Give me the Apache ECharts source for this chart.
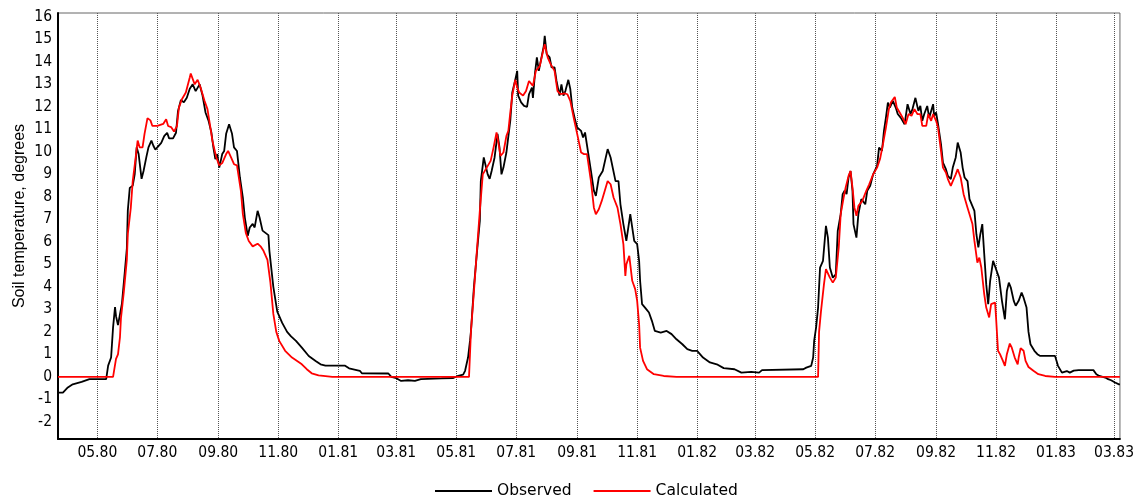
<!DOCTYPE html>
<html><head><meta charset="utf-8">
<script src="https://cdn.jsdelivr.net/npm/echarts@6/dist/echarts.min.js"></script>
<style>html,body{margin:0;padding:0;background:#fff}#c{width:1137px;height:500px}</style>
</head><body><div id="c"></div>
<script>
// Day 0 of the record and its length in days
const startDate = '1980-03-22';
const endDay = 1080;
// x tick positions (first day of every second month), labelled MM.YY
const tickDates = ['1980-05-01','1980-07-01','1980-09-01','1980-11-01','1981-01-01','1981-03-01',
  '1981-05-01','1981-07-01','1981-09-01','1981-11-01','1982-01-01','1982-03-01',
  '1982-05-01','1982-07-01','1982-09-01','1982-11-01','1983-01-01','1983-03-01'];
const yTicks = [-2,-1,0,1,2,3,4,5,6,7,8,9,10,11,12,13,14,15,16];
// [day since start, soil temperature]
const observed = [[0,-0.7],[5,-0.7],[10,-0.47],[15,-0.33],[24,-0.22],[32,-0.1],[49,-0.1],[51,0.5],[54,0.86],[56,2.2],[58,3.1],[59,2.7],[61,2.3],[63,2.35],[65,3.25],[68,4.7],[70,5.7],[71,7.4],[73,8.4],[76,8.5],[78,9.0],[80,10.2],[82,9.9],[85,8.8],[87,9.15],[90,9.8],[92,10.2],[95,10.5],[97,10.27],[99,10.1],[101,10.2],[105,10.4],[108,10.7],[111,10.85],[113,10.6],[117,10.6],[120,10.85],[122,11.8],[125,12.3],[128,12.2],[131,12.4],[134,12.8],[137,13.0],[139,13.08],[140,12.7],[144,13.0],[147,12.5],[150,11.75],[153,11.4],[156,10.86],[158,10.2],[160,9.68],[162,9.9],[164,9.3],[167,9.9],[169,10.04],[171,10.8],[174,11.23],[177,10.8],[179,10.2],[182,10.04],[185,8.86],[188,7.97],[190,7.08],[193,6.27],[195,6.64],[198,6.8],[200,6.64],[203,7.38],[205,7.08],[208,6.5],[211,6.4],[214,6.3],[215,5.6],[219,4.0],[223,2.9],[228,2.4],[233,2.0],[237,1.8],[242,1.6],[248,1.3],[255,0.93],[262,0.71],[267,0.56],[272,0.5],[292,0.5],[296,0.38],[307,0.27],[309,0.16],[336,0.15],[339,0.0],[344,-0.06],[349,-0.18],[356,-0.15],[363,-0.18],[369,-0.1],[390,-0.07],[402,-0.05],[407,0.05],[412,0.1],[414,0.27],[417,0.86],[419,1.6],[420,2.04],[423,4.0],[426,5.5],[429,6.93],[430,8.7],[433,9.75],[435,9.8],[437,9.0],[439,8.8],[441,9.15],[444,9.75],[447,10.8],[449,10.2],[451,9.0],[453,9.3],[456,9.97],[458,9.9],[460,11.4],[462,12.64],[465,13.2],[467,13.6],[468,12.5],[471,12.2],[474,12.04],[477,12.0],[479,12.56],[482,12.86],[483,12.4],[485,13.45],[487,14.2],[489,13.6],[491,14.04],[494,14.7],[495,15.16],[497,14.34],[500,14.2],[502,13.75],[505,13.75],[507,13.15],[510,12.5],[512,13.0],[514,12.5],[516,12.7],[519,13.2],[521,12.8],[523,11.97],[526,11.4],[528,11.08],[532,10.93],[534,10.64],[536,10.86],[538,10.93],[542,9.15],[545,8.27],[547,8.04],[550,8.86],[554,9.15],[559,10.12],[562,9.75],[567,8.7],[570,8.7],[572,7.67],[575,6.79],[578,6.04],[581,6.93],[582,7.23],[585,6.34],[586,6.04],[589,5.9],[591,5.16],[592,4.27],[594,3.23],[597,3.08],[601,2.86],[604,2.49],[607,2.04],[613,1.97],[619,2.04],[624,1.9],[629,1.67],[635,1.45],[640,1.23],[645,1.16],[650,1.16],[656,0.86],[663,0.64],[670,0.56],[677,0.39],[688,0.34],[695,0.19],[705,0.22],[713,0.19],[716,0.3],[758,0.34],[761,0.41],[766,0.49],[768,0.86],[769,1.6],[771,2.2],[773,3.08],[775,4.86],[778,5.16],[781,6.71],[783,6.19],[785,4.86],[788,4.41],[791,4.56],[793,6.49],[796,7.23],[798,8.12],[800,8.27],[802,8.12],[804,8.86],[806,9.15],[808,8.27],[809,6.79],[812,6.19],[814,7.23],[817,7.9],[821,7.67],[823,8.27],[826,8.49],[829,9.0],[833,9.38],[835,10.19],[838,10.04],[840,10.93],[842,11.52],[844,12.19],[846,11.97],[849,12.27],[852,11.97],[854,11.68],[857,11.52],[861,11.23],[864,12.12],[867,11.68],[869,11.9],[872,12.4],[875,11.82],[877,12.04],[879,11.38],[881,11.68],[884,12.04],[886,11.52],[890,12.12],[891,11.6],[893,11.75],[895,11.23],[898,10.34],[900,9.52],[903,9.23],[905,8.93],[908,8.79],[910,9.3],[913,9.75],[915,10.41],[918,9.97],[920,9.3],[922,8.86],[925,8.7],[927,7.9],[929,7.97],[932,7.38],[934,6.34],[936,5.75],[938,6.34],[940,6.79],[942,5.45],[944,4.12],[946,3.23],[948,4.27],[951,5.16],[953,5.08],[957,4.41],[960,3.38],[963,2.56],[965,3.82],[967,4.19],[969,3.97],[972,3.38],[974,3.16],[977,3.38],[980,3.75],[982,3.52],[985,3.08],[987,2.0],[989,1.45],[993,1.16],[996,1.01],[999,0.93],[1014,0.93],[1017,0.49],[1021,0.19],[1026,0.26],[1029,0.19],[1033,0.28],[1038,0.3],[1053,0.3],[1056,0.12],[1059,0.04],[1065,-0.03],[1068,-0.1],[1071,-0.15],[1075,-0.25],[1079,-0.33],[1080,-0.33]];
const calculated = [[0,0],[56,0],[59,0.8],[61,1.0],[63,1.75],[64,2.6],[67,3.8],[70,5.2],[71,6.35],[74,7.5],[76,8.7],[79,9.75],[81,10.5],[83,10.2],[86,10.2],[88,10.8],[91,11.5],[94,11.4],[96,11.15],[101,11.15],[107,11.24],[110,11.45],[112,11.15],[115,11.1],[118,10.9],[121,11.15],[123,11.97],[126,12.34],[130,12.64],[134,13.3],[135,13.48],[139,13.0],[142,13.2],[145,12.86],[149,12.27],[152,11.9],[155,11.08],[157,10.5],[161,9.75],[164,9.4],[167,9.5],[171,9.9],[173,10.04],[176,9.75],[179,9.45],[182,9.4],[186,8.27],[188,7.23],[191,6.4],[194,6.04],[198,5.8],[203,5.92],[206,5.8],[209,5.6],[213,5.2],[216,4.2],[219,2.8],[222,2.0],[225,1.6],[231,1.16],[238,0.86],[248,0.56],[253,0.34],[258,0.16],[265,0.07],[279,0],[418,0],[420,2.04],[423,3.8],[426,5.6],[429,7.38],[432,9.0],[436,9.3],[440,9.6],[443,10.2],[446,10.86],[447,10.64],[450,9.82],[453,9.97],[456,10.7],[458,10.93],[460,11.75],[462,12.5],[465,13.2],[467,12.86],[469,12.64],[473,12.5],[476,12.7],[479,13.15],[483,12.93],[486,13.6],[490,13.82],[493,14.41],[495,14.78],[498,14.2],[501,13.9],[505,13.6],[508,12.7],[511,12.56],[515,12.6],[518,12.56],[521,12.27],[525,11.4],[528,10.8],[532,9.97],[535,9.9],[538,9.9],[542,8.7],[545,7.52],[547,7.23],[550,7.45],[553,7.82],[559,8.7],[562,8.56],[565,7.97],[569,7.52],[572,6.79],[575,5.9],[577,4.49],[578,5.0],[581,5.38],[582,5.0],[584,4.27],[587,3.9],[589,3.38],[591,2.34],[592,1.3],[595,0.71],[599,0.34],[606,0.12],[616,0.04],[629,0],[773,0],[774,2.0],[776,2.93],[779,4.12],[781,4.79],[785,4.41],[788,4.19],[791,4.41],[794,5.75],[796,7.23],[799,7.97],[801,8.41],[804,8.93],[806,9.15],[808,8.41],[810,7.52],[812,7.16],[814,7.6],[818,7.82],[822,8.27],[825,8.56],[829,9.0],[833,9.3],[836,9.68],[839,10.34],[842,11.08],[845,11.9],[847,12.19],[851,12.44],[853,11.97],[856,11.75],[859,11.52],[862,11.23],[865,11.68],[868,11.6],[871,11.9],[874,11.68],[877,11.68],[879,11.15],[883,11.15],[885,11.68],[888,11.38],[890,11.68],[893,11.38],[895,11.08],[898,10.04],[900,9.3],[903,9.08],[905,8.79],[908,8.49],[910,8.7],[913,9.0],[915,9.23],[918,8.86],[921,8.12],[925,7.52],[927,7.23],[930,6.79],[932,6.04],[935,5.08],[937,5.3],[939,4.86],[942,3.67],[944,3.08],[947,2.64],[949,3.23],[953,3.3],[954,2.64],[956,1.16],[958,1.01],[961,0.71],[963,0.49],[965,1.01],[968,1.48],[970,1.3],[973,0.86],[976,0.56],[977,0.86],[979,1.27],[982,1.16],[984,0.71],[987,0.44],[992,0.27],[997,0.12],[1004,0.04],[1014,0],[1080,0]];

const DAY = 86400000;
const t0 = Date.parse(startDate + 'T00:00:00Z');
const toPts = arr => arr.map(p => [t0 + p[0] * DAY, p[1]]);
const tickVals = tickDates.map(s => Date.parse(s + 'T00:00:00Z'));
const fmt = v => { const d = new Date(v); const m = d.getUTCMonth() + 1; const y = d.getUTCFullYear() % 100;
  return (m < 10 ? '0' : '') + m + '.' + (y < 10 ? '0' : '') + y; };
const tickFont = "'DejaVu Sans Condensed', 'Liberation Sans', sans-serif";
const lineIcon = 'path://M0,0H57V2H0Z';

const chart = echarts.init(document.getElementById('c'), null, {renderer: 'canvas'});
chart.setOption({
  animation: false,
  backgroundColor: '#fff',
  grid: {left: 58, right: 12, top: 13, bottom: 61, show: true, borderColor: '#666', borderWidth: 1, backgroundColor: 'transparent'},
  legend: {data: [{name: 'Observed', icon: lineIcon}, {name: 'Calculated', icon: lineIcon}],
    left: 435, top: 483, padding: 0, itemWidth: 57, itemHeight: 14, itemGap: 22,
    textStyle: {fontFamily: 'DejaVu Sans', fontSize: 15.5, color: '#000'}},
  xAxis: {type: 'value', min: t0, max: t0 + endDay * DAY,
    axisLine: {show: true, onZero: false, lineStyle: {color: '#000', width: 2}},
    axisTick: {show: false, customValues: tickVals},
    axisLabel: {customValues: tickVals, formatter: fmt, margin: 6, color: '#000', fontFamily: tickFont, fontSize: 15.5},
    splitLine: {show: true, lineStyle: {type: 'dotted', color: '#555', width: 1}}},
  yAxis: {type: 'value', min: -2.76, max: 16.17,
    axisLine: {show: true, onZero: false, lineStyle: {color: '#000', width: 2}},
    axisTick: {show: false},
    axisLabel: {customValues: yTicks, margin: 6, color: '#000', fontFamily: tickFont, fontSize: 15.5},
    splitLine: {show: false},
    name: 'Soil temperature, degrees', nameLocation: 'middle', nameGap: 30, nameMoveOverlap: false,
    nameTextStyle: {fontFamily: 'Liberation Sans', fontSize: 16, color: '#000', padding: [0, 0, 0, 20]}},
  series: [
    {name: 'Observed', type: 'line', data: toPts(observed), symbol: 'none', showSymbol: false,
     lineStyle: {color: '#000', width: 1.8}, itemStyle: {color: '#000'}},
    {name: 'Calculated', type: 'line', data: toPts(calculated), symbol: 'none', showSymbol: false,
     lineStyle: {color: '#ff0000', width: 1.8}, itemStyle: {color: '#ff0000'}}
  ]
});
</script></body></html>
